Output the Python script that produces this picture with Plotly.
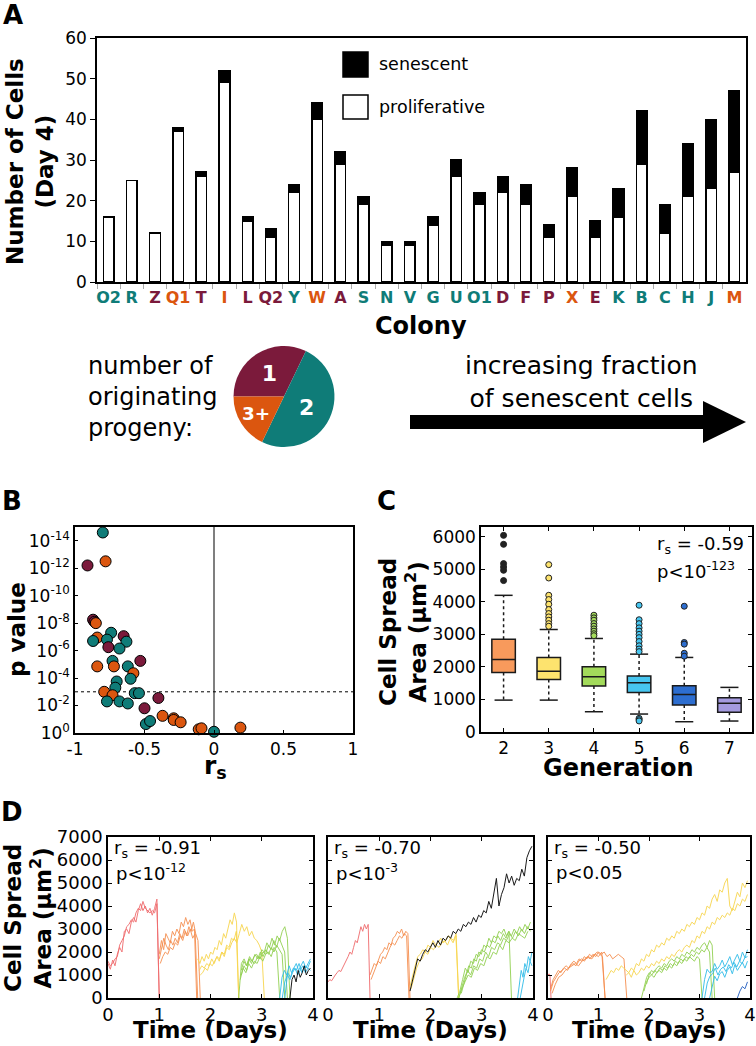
import numpy as np
import plotly.graph_objects as go

W, H = 756, 1046
def px(x): return x / W
def py(y): return 1 - y / H

FONT = "DejaVu Sans"
MAROON = "#7b1a3b"
TEAL = "#0f7c78"
ORANGE = "#db560f"
GROUP_COLORS = {"1": MAROON, "2": TEAL, "3+": ORANGE}

# ---------------- Panel A data ----------------
colonies = ["O2", "R", "Z", "Q1", "T", "I", "L", "Q2", "Y", "W", "A", "S", "N", "V",
            "G", "U", "O1", "D", "F", "P", "X", "E", "K", "B", "C", "H", "J", "M"]
total_cells = [16, 25, 12, 38, 27, 52, 16, 13, 24, 44, 32, 21, 10, 10,
               16, 30, 22, 26, 24, 14, 28, 15, 23, 42, 19, 34, 40, 47]
proliferative = [16, 25, 12, 37, 26, 49, 15, 11, 22, 40, 29, 19, 9, 9,
                 14, 26, 19, 22, 19, 11, 21, 11, 16, 29, 12, 21, 23, 27]
progeny_group = ["2", "2", "1", "3+", "1", "3+", "1", "1", "2", "3+", "1", "2", "2", "2",
                 "2", "2", "2", "1", "1", "1", "3+", "1", "2", "2", "2", "2", "2", "3+"]
senescent = [t - p for t, p in zip(total_cells, proliferative)]
pie_labels = ["1", "2", "3+"]
pie_counts = [progeny_group.count(g) for g in pie_labels]

# ---------------- Panel B data ----------------
b_rs = [-0.80, -0.91, -0.78, -0.87, -0.86, -0.85, -0.74, -0.84, -0.87, -0.77, -0.65, -0.63,
        -0.76, -0.68, -0.53, -0.73, -0.84, -0.72, -0.62, -0.58, -0.60, -0.70, -0.71, -0.57,
        -0.54, -0.79, -0.73, -0.77, -0.68, -0.62, -0.40, -0.50, -0.49, -0.46, -0.37, -0.29,
        -0.29, -0.24, -0.11, -0.09, 0.00, 0.19]
b_neglog10p = [14.6, 12.2, 12.5, 8.25, 8.1, 8.0, 7.3, 6.95, 6.7, 6.8, 7.05, 6.65,
               6.25, 6.15, 5.25, 5.25, 4.85, 4.85, 4.85, 4.35, 3.95, 3.75, 3.3, 2.9,
               2.9, 3.0, 2.75, 2.3, 2.3, 2.15, 2.55, 1.8, 0.65, 0.87, 1.25, 1.07,
               0.95, 0.78, 0.27, 0.34, 0.09, 0.39]
b_group = ["2", "1", "3+", "1", "1", "3+", "2", "3+", "2", "2", "1", "2",
           "1", "2", "1", "2", "3+", "3+", "2", "3+", "2", "2", "2", "2",
           "2", "3+", "3+", "2", "2", "2", "1", "1", "2", "2", "3+", "3+",
           "3+", "3+", "3+", "3+", "2", "3+"]
b_threshold = 1e-3
b_pvals = [10 ** (-d) for d in b_neglog10p]

# ---------------- Panel C data ----------------
generations = [2, 3, 4, 5, 6, 7]
c_q1 = [1830, 1615, 1411, 1217, 828, 604]
c_median = [2230, 1870, 1697, 1512, 1156, 880]
c_q3 = [2850, 2290, 2003, 1718, 1420, 1053]
c_lower = [980, 980, 623, 552, 316, 337]
c_upper = [4200, 3150, 2874, 2393, 2291, 1371]
c_colors = ["#f89a5c", "#fde36e", "#a3db5b", "#47c6f0", "#2d6ed0", "#a59be0"]
c_outliers = {
    2: [6043, 5767, 5175, 5071, 4969, 4653],
    3: [5143, 4733, 4202, 4070, 3926, 3763, 3640, 3537, 3435, 3330, 3250],
    4: [3589, 3507, 3435, 3333, 3252, 3169, 3098, 3020, 2960],
    5: [3896, 3450, 3330, 3200, 3100, 3000, 2900, 2780, 2650, 2550, 2470, 420, 380, 340],
    6: [3865, 2751, 2700, 2420, 2330],
    7: [],
}

# ---------------- Panel D data (time in days, area in um^2) ----------------
LINE_COLORS = {1: "#f06a6c", 2: "#f68f50", 3: "#f8d64e", 4: "#93d152",
               5: "#2fbce9", 6: "#1f5cc0", 0: "#000000"}

d1_red_a = [1500, 1250, 1650, 1400, 1900, 2200, 2000, 2900, 3000, 2800, 3300, 3500,
            3300, 3800, 4100, 3800, 4000, 3700, 3900, 3600, 3900, 4300, 0]
d1_red_b = [1600, 1400, 1500, 1700, 1800, 2300, 2500, 2700, 3100, 3200, 3400, 3300,
            3700, 3900, 3800, 4200, 3900, 3800, 3700, 3800, 3700, 4100, 0]
d1_orange_a = [1900, 2500, 2100, 2800, 2600, 2400, 2900, 2700, 3000, 2800, 3300, 3100,
               3500, 3200, 3400, 2900, 3000, 0]
d1_orange_b = [1700, 2200, 2600, 2300, 2100, 2500, 2300, 2600, 2400, 2800, 2600, 3000,
               2700, 3100, 2900, 3300, 2800, 2500, 0]
d1_orange_c = [1500, 1800, 2000, 1900, 2200, 2100, 2400, 2300, 2700, 2500, 2900, 2700,
               3000, 2600, 2800, 0]
d1_yellow_a = [1700, 1500, 1800, 1600, 1900, 1700, 2000, 1900, 2200, 2100, 2500, 2300,
               2800, 2600, 3000, 3400, 3200, 3700, 3300, 0]
d1_yellow_b = [1200, 1400, 1300, 1500, 1400, 1700, 1500, 1800, 1600, 2000, 1800, 2200,
               2100, 2400, 2600, 2400, 2800, 3200, 2900, 3100, 2700, 2900, 2600, 2500,
               2300, 2000, 0]
d1_yellow_c = [1000, 1100, 1300, 1200, 1500, 1400, 1600, 1800, 1700, 2000, 1900, 2300,
               2200, 2600, 2500, 2900, 0]
d1_green_a = [0, 1500, 1700, 1400, 1800, 1600, 1900, 1700, 2000, 1800, 2100, 1900,
              2200, 2000, 2300, 2100, 1900, 0]
d1_green_b = [1200, 1600, 1400, 1700, 1500, 1800, 1900, 1700, 2100, 2000, 2400, 2200,
              2600, 2300, 2700, 2500, 2900, 3100, 2600, 0]
d1_green_c = [800, 1300, 1100, 1500, 1300, 1600, 1500, 1800, 1600, 1900, 2000, 1800,
              2200, 2000, 0]
d1_green_d = [1000, 1400, 1200, 1700, 1600, 1500, 1800, 1700, 2000, 1900, 2300, 2100,
              2500, 2200, 2600, 2300, 2000, 0]
d1_cyan_a = [0, 900, 1200, 1000, 1400, 1100, 1300, 1500, 1200, 1400, 1600, 1300, 1500, 1700]
d1_cyan_b = [0, 700, 1000, 800, 1100, 1300, 1000, 1200, 1400, 1100, 1300, 1200]
d1_cyan_c = [0, 1100, 900, 1300, 1200, 1500, 1100, 1400, 1300, 1600]
d1_black = [0, 800, 1000, 700, 1200, 900, 1100, 1400, 1000, 1200, 1300]

d2_red = [700, 800, 750, 900, 1000, 1100, 1200, 1150, 1300, 1500, 1600, 1800,
          2000, 1900, 2200, 2500, 2400, 2800, 3100, 2900, 3200, 3000, 3200, 0]
d2_orange_a = [1000, 1300, 1500, 1400, 1700, 1900, 2000, 2200, 2100, 2400, 2300, 2600,
               2700, 2900, 2800, 3000, 2700, 2900, 2800, 0]
d2_orange_b = [800, 1100, 1300, 1600, 1500, 1800, 1700, 2000, 2200, 2400, 2300, 2500,
               2700, 2600, 2800, 2700, 0]
d2_yellow_a = [500, 1000, 1400, 1800, 1900, 2100, 2000, 2300, 2200, 2500, 2300, 2400,
               2600, 2400, 2500, 2700, 2600, 2500, 2800, 0]
d2_yellow_b = [400, 900, 1300, 1600, 1700, 2000, 1900, 2200, 2100, 2300, 2200, 2400,
               2500, 2300, 2600, 2400, 2700, 0]
d2_black = [300, 800, 1300, 1700, 1600, 1900, 2100, 2000, 2200, 2400, 2200, 2500,
            2300, 2600, 2500, 2700, 2600, 2900, 2800, 3000, 2900, 3200, 3100, 3300,
            3200, 3500, 3300, 3600, 3500, 3800, 3700, 4200, 3900, 4600, 5200, 4000,
            4500, 4800, 5400, 5000, 5300, 4900, 5200, 5100, 5600, 5300, 6100, 6400, 6600]
d2_green_a = [0, 300, 800, 1300, 1100, 1600, 1500, 1900, 1800, 2100, 2000, 2300,
              2200, 2500, 2400, 2700, 2500, 2800, 2600, 2900, 2700, 3000, 2800, 3100,
              2900, 3200, 3000, 3300]
d2_green_b = [0, 500, 900, 1200, 1000, 1400, 1300, 1700, 1600, 2000, 1800, 2200,
              2100, 2400, 2300, 2600, 2500, 2800, 2600, 2900, 2700, 3000, 2800, 3100, 2900]
d2_green_c = [0, 400, 700, 1000, 900, 1300, 1200, 1500, 1400, 1800, 1700, 2000,
              1900, 2300, 2100, 2500, 2400, 2600, 2500, 2800, 2700, 2600, 2900]
d2_green_d = [200, 600, 1100, 1400, 1300, 1700, 1600, 2000, 1900, 2300, 2200, 2600,
              2400, 2700, 2600, 2900, 2800, 3000, 2700, 2900, 0]
d2_cyan_a = [0, 600, 1200, 900, 1500, 1300, 1800, 1600, 2000]
d2_cyan_b = [0, 500, 900, 1300, 1100, 1600, 1400]

d3_red = [1000, 1050, 950, 0]
d3_orange_a = [400, 800, 1000, 1200, 1100, 1300, 1400, 1300, 1500, 1600, 1500, 1700,
               1600, 1800, 1700, 1900, 1800, 1900, 2000, 1900, 1800, 0]
d3_orange_b = [300, 700, 900, 1100, 1200, 1300, 1200, 1400, 1500, 1400, 1600, 1700,
               1600, 1800, 1700, 1900, 1800, 2000, 1900, 2000, 1800, 1900, 1700, 1800,
               1900, 1800, 1700, 0]
d3_orange_c = [200, 600, 900, 1000, 1200, 1300, 1400, 1500, 1400, 1600, 1700, 1800,
               1700, 1900, 1800, 2000, 0]
d3_yellow_a = [800, 1000, 1200, 1100, 1300, 1200, 1400, 1300, 1200, 1100, 1300, 1200,
               1500, 1400, 1700, 1600, 1900, 1800, 2100, 2000, 2300, 2200, 2400, 2300,
               2600, 2500, 2700, 2600, 2900, 2800, 3000, 2900, 3200, 3100, 3300, 3200,
               3500, 3400, 3700, 3600, 4000, 3900, 4300, 4500, 4200, 4700, 4600, 5000,
               5200, 4000, 3800, 4200, 4600, 4400, 5000, 4800, 5100]
d3_yellow_b = [1000, 1100, 900, 1200, 1000, 1100, 1300, 1200, 1400, 1300, 1500, 1400,
               1600, 1500, 1700, 1600, 1800, 1700, 1900, 1800, 2000, 2100, 2000, 2200,
               2300, 2200, 2500, 2400, 2700, 2600, 2900, 2800, 3100, 3000, 3300, 3200,
               3500, 3400, 3600, 3500, 3700, 3600, 3900, 3800, 4100, 4000, 4300, 4200, 4500]
d3_green_a = [0, 500, 900, 1100, 1000, 1200, 1100, 1300, 1200, 1400, 1300, 1500,
              1400, 1600, 1500, 1700, 1600, 1800, 1700, 1900, 1800, 2000, 1900, 2100,
              2000, 2200, 2000, 0]
d3_green_b = [300, 700, 900, 1000, 900, 1100, 1200, 1100, 1300, 1200, 1400, 1300,
              1500, 1400, 1600, 1500, 1700, 1600, 1800, 1700, 1600, 1800, 1700, 0]
d3_green_c = [600, 1000, 1200, 1100, 1300, 1400, 1300, 1500, 1400, 1600, 1700, 1600,
              1800, 1700, 1900, 1800, 2000, 1900, 2100, 2000, 2200, 2100, 2300, 2400,
              2200, 2500, 2300, 0]
d3_cyan_a = [0, 800, 1250, 1100, 1150, 1500, 1250, 1400, 1650, 1350, 1550, 1800,
             1450, 1700, 1900, 1600, 2000, 1750, 2100]
d3_cyan_b = [0, 650, 950, 1050, 1300, 1000, 1250, 1350, 1150, 1450, 1300, 1550,
             1350, 1600, 1500, 1750, 1800]
d3_cyan_c = [0, 550, 950, 750, 1050, 1150, 900, 1200, 1350, 1050, 1450, 1200,
             1400, 1550, 1300, 1600]
d3_blue = [0, 300, 500, 400, 700]

# (panel, generation colour key, start day, end day, values)
d_traces = [
    (1, 1, 0.00, 1.00, d1_red_a), (1, 1, 0.00, 1.00, d1_red_b),
    (1, 2, 1.00, 1.73, d1_orange_a), (1, 2, 1.00, 1.80, d1_orange_b), (1, 2, 1.02, 1.75, d1_orange_c),
    (1, 3, 1.75, 2.55, d1_yellow_a), (1, 3, 1.78, 3.05, d1_yellow_b), (1, 3, 1.80, 2.55, d1_yellow_c),
    (1, 4, 2.55, 3.45, d1_green_a), (1, 4, 2.60, 3.55, d1_green_b), (1, 4, 2.58, 3.35, d1_green_c),
    (1, 4, 2.60, 3.50, d1_green_d),
    (1, 5, 3.35, 3.95, d1_cyan_a), (1, 5, 3.40, 3.95, d1_cyan_b), (1, 5, 3.45, 3.95, d1_cyan_c),
    (1, 0, 3.55, 3.95, d1_black),
    (2, 1, 0.00, 0.82, d2_red),
    (2, 2, 0.82, 1.60, d2_orange_a), (2, 2, 0.84, 1.58, d2_orange_b),
    (2, 3, 1.60, 2.55, d2_yellow_a), (2, 3, 1.62, 2.55, d2_yellow_b),
    (2, 4, 2.52, 3.95, d2_green_a), (2, 4, 2.55, 3.95, d2_green_b), (2, 4, 2.55, 3.90, d2_green_c),
    (2, 4, 2.60, 3.58, d2_green_d),
    (2, 5, 3.70, 3.98, d2_cyan_a), (2, 5, 3.75, 3.98, d2_cyan_b),
    (2, 0, 1.60, 3.98, d2_black),
    (3, 1, 0.00, 0.06, d3_red),
    (3, 2, 0.05, 1.13, d3_orange_a), (3, 2, 0.05, 1.56, d3_orange_b), (3, 2, 0.08, 1.13, d3_orange_c),
    (3, 3, 1.15, 3.95, d3_yellow_a), (3, 3, 1.55, 3.95, d3_yellow_b),
    (3, 4, 1.85, 3.25, d3_green_a), (3, 4, 1.90, 3.05, d3_green_b), (3, 4, 1.95, 3.30, d3_green_c),
    (3, 5, 3.05, 3.95, d3_cyan_a), (3, 5, 3.10, 3.95, d3_cyan_b), (3, 5, 3.20, 3.95, d3_cyan_c),
    (3, 6, 3.75, 3.95, d3_blue),
]
d_stats = [("-0.91", "p<10<sup>-12</sup>"), ("-0.70", "p<10<sup>-3</sup>"), ("-0.50", "p<0.05")]

fig = go.Figure()

# ---- Panel A ----
fig.add_trace(go.Bar(x=colonies, y=proliferative, width=0.46, xaxis="x", yaxis="y",
                     marker=dict(color="white", line=dict(color="black", width=1.5)),
                     hoverinfo="skip"))
fig.add_trace(go.Bar(x=colonies, y=senescent, width=0.46, xaxis="x", yaxis="y",
                     marker=dict(color="black", line=dict(color="black", width=1.5)),
                     hoverinfo="skip"))

fig.add_trace(go.Pie(values=pie_counts, labels=pie_labels,
                     text=[f"<b>{g}</b>" for g in pie_labels],
                     textinfo="text", textposition="inside", insidetextorientation="horizontal",
                     sort=False, direction="clockwise", rotation=-90,
                     marker=dict(colors=[GROUP_COLORS[g] for g in pie_labels], line=dict(width=0)),
                     textfont=dict(family=FONT, size=22, color="white"),
                     domain=dict(x=[px(233), px(335)], y=[py(447), py(346)]),
                     hoverinfo="skip", showlegend=False))

# ---- Panel B ----
fig.add_trace(go.Scatter(x=[0, 0], y=[1, 1e-15], mode="lines", xaxis="x2", yaxis="y2",
                         line=dict(color="#555555", width=1.5), hoverinfo="skip"))
fig.add_trace(go.Scatter(x=[-1, 1], y=[b_threshold, b_threshold], mode="lines", xaxis="x2", yaxis="y2",
                         line=dict(color="black", width=1, dash="dot"), hoverinfo="skip"))
fig.add_trace(go.Scatter(x=b_rs, y=b_pvals, mode="markers", xaxis="x2", yaxis="y2",
                         marker=dict(size=11, color=[GROUP_COLORS[g] for g in b_group],
                                     line=dict(color="black", width=1)),
                         cliponaxis=False, hoverinfo="skip"))

# ---- Panel C ----
CAP = 0.2
for g, q1, md, q3, lo, hi, col in zip(generations, c_q1, c_median, c_q3, c_lower, c_upper, c_colors):
    # dotted whiskers with solid caps
    fig.add_trace(go.Scatter(x=[g, g, None, g, g], y=[q3, hi, None, q1, lo], mode="lines",
                             xaxis="x3", yaxis="y3", line=dict(color="#1a1a1a", width=1.5, dash="dot"),
                             hoverinfo="skip"))
    fig.add_trace(go.Scatter(x=[g - CAP, g + CAP, None, g - CAP, g + CAP], y=[hi, hi, None, lo, lo],
                             mode="lines", xaxis="x3", yaxis="y3",
                             line=dict(color="#1a1a1a", width=1.5), hoverinfo="skip"))
    fig.add_trace(go.Box(x=[g], q1=[q1], median=[md], q3=[q3], lowerfence=[q1], upperfence=[q3],
                         xaxis="x3", yaxis="y3", width=0.52, whiskerwidth=0,
                         fillcolor=col, line=dict(color="#1a1a1a", width=1.5),
                         boxpoints=False, hoverinfo="skip"))
    outs = c_outliers[g]
    if outs:
        fig.add_trace(go.Scatter(x=[g] * len(outs), y=outs, mode="markers", xaxis="x3", yaxis="y3",
                                 marker=dict(size=6, color=col if g != 2 else "#222222",
                                             line=dict(color="#222222", width=1)),
                                 hoverinfo="skip"))

# ---- Panel D ----
for panel, gen, t0, t1, vals in d_traces:
    t = np.linspace(t0, t1, len(vals))
    fig.add_trace(go.Scatter(x=t, y=vals, mode="lines", xaxis=f"x{3 + panel}", yaxis=f"y{3 + panel}",
                             line=dict(color=LINE_COLORS[gen], width=1), opacity=0.9,
                             hoverinfo="skip"))

tickfont = dict(family=FONT, size=17, color="black")
frame = dict(showline=True, linecolor="black", linewidth=1.5, showgrid=False, zeroline=False,
             automargin=False, tickangle=0, tickcolor="black")

layout_axes = dict(
    xaxis=dict(domain=[px(97), px(746)], anchor="y", type="category",
               tickvals=colonies,
               ticktext=[f"<b><span style='color:{GROUP_COLORS[g]}'>{c}</span></b>"
                         for c, g in zip(colonies, progeny_group)],
               tickfont=dict(family=FONT, size=16), ticks="outside", tickson="boundaries",
               ticklen=5, mirror=True, **{**frame, "tickcolor": "#aaaaaa"}),
    yaxis=dict(domain=[py(282), py(38)], anchor="x", range=[0, 60], dtick=10,
               ticks="outside", ticklen=5, tickfont=tickfont, mirror=True, **frame),
    xaxis2=dict(domain=[px(75), px(353)], anchor="y2", range=[-1, 1],
                tickvals=[-1, -0.5, 0, 0.5, 1], ticktext=["-1", "-0.5", "0", "0.5", "1"],
                ticks="inside", ticklen=3, tickfont=tickfont, mirror=True, **frame),
    yaxis2=dict(domain=[py(733), py(527)], anchor="x2", type="log", range=[0, -15],
                tickvals=[10 ** (-k) for k in range(0, 15, 2)],
                ticktext=[f"10<sup>{-k if k else 0}</sup>" for k in range(0, 15, 2)],
                ticks="inside", ticklen=3, tickfont=tickfont, mirror=True, **frame),
    xaxis3=dict(domain=[px(481), px(752)], anchor="y3", range=[1.5, 7.5], tickvals=generations,
                ticks="inside", ticklen=4, tickfont=tickfont, mirror="ticks", **frame),
    yaxis3=dict(domain=[py(732), py(527)], anchor="x3", range=[0, 6300],
                tickvals=[0, 1000, 2000, 3000, 4000, 5000, 6000],
                ticks="inside", ticklen=4, tickfont=tickfont, mirror="ticks", **frame),
)
d_x = [(108, 313), (328, 533), (548, 750)]
for i, (x0, x1) in enumerate(d_x):
    n = 4 + i
    layout_axes[f"xaxis{n}"] = dict(domain=[px(x0), px(x1)], anchor=f"y{n}", range=[0, 4],
                                    tickvals=[0, 1, 2, 3, 4], ticks="inside", ticklen=4,
                                    tickfont=dict(family=FONT, size=18, color="black"),
                                    mirror="ticks", **frame)
    layout_axes[f"yaxis{n}"] = dict(domain=[py(998), py(837)], anchor=f"x{n}", range=[0, 7000],
                                    tickvals=list(range(0, 7001, 1000)), ticks="inside", ticklen=4,
                                    showticklabels=(i == 0),
                                    tickfont=dict(family=FONT, size=18, color="black"),
                                    mirror="ticks", **frame)

annotations = []
def ann(text, x, y, size, xanchor="center", yanchor="middle", angle=0, align="center", color="black"):
    annotations.append(dict(text=text, x=px(x), y=py(y), xref="paper", yref="paper",
                            xanchor=xanchor, yanchor=yanchor, textangle=angle, align=align,
                            showarrow=False, font=dict(family=FONT, size=size, color=color)))

# panel letters
ann("<b>A</b>", 13, 15, 26)
ann("<b>B</b>", 12, 501, 26)
ann("<b>C</b>", 386, 501, 26)
ann("<b>D</b>", 12, 812, 26)

# Panel A text
ann("<b>Number of Cells<br>(Day 4)</b>", 30, 162, 23, angle=-90)
ann("<b>Colony</b>", 421, 326, 24)
ann("senescent", 377, 64, 17.5, xanchor="left")
ann("proliferative", 377, 107, 17.5, xanchor="left")
ann("number of<br>originating<br>progeny:", 86, 397, 24, xanchor="left", align="left")
ann("increasing fraction<br>of senescent cells", 581, 382, 25)

# Panel B text
ann("<b>r<sub>s</sub></b>", 215, 767, 25)
ann("<b>p value</b>", 17, 630, 23, angle=-90)

# Panel C text
ann("<b>Cell Spread<br>Area (μm<sup>2</sup>)</b>", 403, 632, 23, angle=-90)
ann("<b>Generation</b>", 618, 768, 24)
ann("r<sub>s</sub> = -0.59", 655, 545, 18, xanchor="left")
ann("p<10<sup>-123</sup>", 655, 570, 18, xanchor="left")

# Panel D text
ann("<b>Cell Spread<br>Area (μm<sup>2</sup>)</b>", 28, 918, 23, angle=-90)
for (x0, x1), (rs, pv) in zip(d_x, d_stats):
    ann("<b>Time (Days)</b>", (x0 + x1) / 2, 1030, 23)
    ann(f"r<sub>s</sub> = {rs}", x0 + 4, 849, 18, xanchor="left")
    ann(pv, x0 + 6, 872, 18, xanchor="left")

shapes = [
    # legend swatches
    dict(type="rect", xref="paper", yref="paper", x0=px(343), x1=px(368), y0=py(77), y1=py(52),
         fillcolor="black", line=dict(color="black", width=1.5)),
    dict(type="rect", xref="paper", yref="paper", x0=px(343), x1=px(368), y0=py(119), y1=py(95),
         fillcolor="white", line=dict(color="black", width=1.5)),
    # arrow
    dict(type="rect", xref="paper", yref="paper", x0=px(410), x1=px(706), y0=py(429), y1=py(415),
         fillcolor="black", line=dict(width=0)),
    dict(type="path", xref="paper", yref="paper",
         path=f"M {px(703)},{py(401)} L {px(746)},{py(422)} L {px(703)},{py(443)} Z",
         fillcolor="black", line=dict(width=0)),
]

fig.update_layout(template="none", width=W, height=H, autosize=False,
                  margin=dict(l=0, r=0, t=0, b=0, pad=0),
                  paper_bgcolor="white", plot_bgcolor="white", showlegend=False,
                  barmode="stack", bargap=0.5, font=dict(family=FONT, color="black"),
                  annotations=annotations, shapes=shapes, **layout_axes)

fig.write_html("out.html", config={"displayModeBar": False},
               post_script="document.body.style.margin='0';document.body.style.overflow='hidden';")
